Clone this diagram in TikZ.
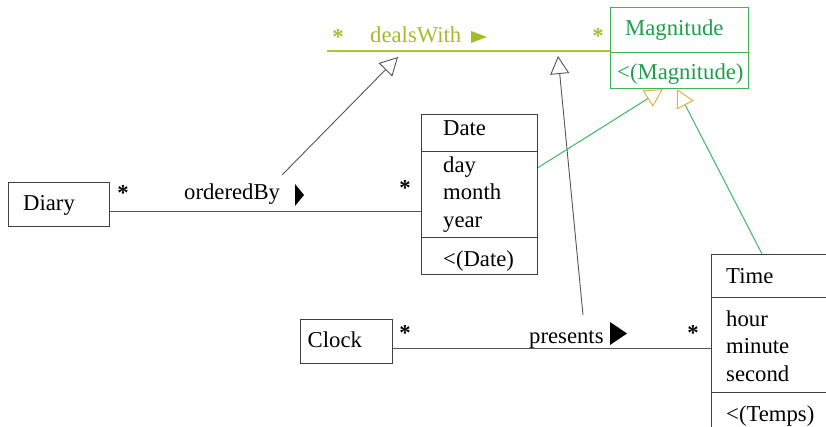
\documentclass[tikz,border=0pt]{standalone}
\usepackage{fontspec}
\setmainfont{Liberation Serif}
\usetikzlibrary{arrows.meta,calc}
\definecolor{boxline}{HTML}{404040}
\definecolor{linegray}{HTML}{555555}
\definecolor{magGreen}{HTML}{1E9E4A}
\definecolor{magBorder}{HTML}{3DB35A}
\definecolor{lineGreen}{HTML}{3DB860}
\definecolor{yg}{HTML}{AFC535}
\definecolor{ygtext}{HTML}{A4BC2C}
\definecolor{orangeTip}{HTML}{E8B040}
\begin{document}
\begin{tikzpicture}[x=1pt,y=-1pt,
  cbox/.style={draw=boxline, line width=1.1pt, inner sep=0pt, anchor=north west},
  gbox/.style={draw=magBorder, line width=1.1pt, inner sep=0pt, anchor=north west},
  txt/.style={anchor=base west, inner sep=0pt, font=\fontsize{22.7pt}{27pt}\selectfont},
  mult/.style={anchor=base, inner sep=0pt, font=\fontsize{22.7pt}{27pt}\selectfont\bfseries},
  assoc/.style={draw=linegray, line width=1pt},
  gen/.style={draw=linegray, line width=0.9pt, -{Triangle[open, length=18pt, width=19pt, line width=0.9pt]}},
  ggen/.style={draw=lineGreen, line width=1pt, -{Triangle[open, length=18pt, width=19pt, color=orangeTip, line width=1pt]}},
]
\useasboundingbox (0,0) rectangle (826,427);

% Diary
\node[cbox, minimum width=101pt, minimum height=44pt] (diary) at (8,182) {};
\node[txt] (diaryL) at (23,211) {Diary};

% Clock
\node[cbox, minimum width=92pt, minimum height=44pt] (clock) at (300,319) {};
\node[txt] (clockL) at (307.5,347) {Clock};

% Date
\node[cbox, minimum width=116pt, minimum height=37pt] (dateT) at (421,114) {};
\node[cbox, minimum width=116pt, minimum height=86pt] (dateA) at (421,151) {};
\node[cbox, minimum width=116pt, minimum height=37pt] (dateO) at (421,237) {};
\node[txt] (dateL) at (443,136) {Date};
\node[txt] (dayL) at (443,172.5) {day};
\node[txt] (monthL) at (443,200) {month};
\node[txt] (yearL) at (443,227.5) {year};
\node[txt] (dateOp) at (443,266) {<(Date)};

% Time
\node[cbox, minimum width=129pt, minimum height=43pt] (timeT) at (711,254) {};
\node[cbox, minimum width=129pt, minimum height=95pt] (timeA) at (711,297) {};
\node[cbox, minimum width=129pt, minimum height=48pt] (timeO) at (711,392) {};
\node[txt] (timeL) at (726,283.5) {Time};
\node[txt] (hourL) at (726,326) {hour};
\node[txt] (minuteL) at (726,353.5) {minute};
\node[txt] (secondL) at (726,381) {second};
\node[txt] (timeOp) at (726,421) {<(Temps)};

% Magnitude
\node[gbox, minimum width=138pt, minimum height=45pt] (magT) at (610,7) {};
\node[gbox, minimum width=138pt, minimum height=36pt] (magO) at (610,52) {};
\node[txt, text=magGreen] (magL) at (625,36) {Magnitude};
\node[txt, text=magGreen] (magOp) at (617,79.5) {<(Magnitude)};

% associations
\draw[assoc] ([yshift=-7pt]diary.east) -- ([yshift=-7pt]diary.east -| dateA.west);
\draw[assoc] ([yshift=-7pt]clock.east) -- ([yshift=-7pt]clock.east -| timeA.west);
\coordinate (dwL) at (327,51);
\draw[draw=yg, line width=1.2pt] (dwL) -- (dwL -| magT.west);

% labels
\node[txt] (orderedBy) at (184,200) {orderedBy};
\node[txt] (presents) at (529,343.3) {presents};
\node[txt, text=ygtext] (dealsWith) at (370,42.7) {dealsWith};
\fill[black] (295,184) -- (304,195) -- (295,206) -- cycle;
\fill[black] (610,322) -- (627,333.5) -- (610,345) -- cycle;
\fill[ygtext] (471,31) -- (487,37) -- (471,43) -- cycle;

% multiplicities
\node[mult] (m1) at (123,201) {*};
\node[mult] (m2) at (405,196) {*};
\node[mult] (m3) at (405,340) {*};
\node[mult] (m4) at (693,340) {*};
\node[mult, text=ygtext] (m5) at (338,45) {*};
\node[mult, text=ygtext] (m6) at (598,44) {*};

% generalizations of associations
\coordinate (g1s) at (282,175);
\coordinate (g1e) at (398,57);
\draw[gen] (g1s) -- (g1e);
\coordinate (g2s) at (583,315);
\coordinate (g2e) at (558,56);
\draw[gen] (g2s) -- (g2e);

% generalizations of classes
\draw[ggen] ([yshift=27pt]dateA.east) -- ([xshift=53pt]magO.south west);
\draw[ggen] ([xshift=51pt]timeT.north west) -- ([xshift=67pt]magO.south west);
\end{tikzpicture}
\end{document}
